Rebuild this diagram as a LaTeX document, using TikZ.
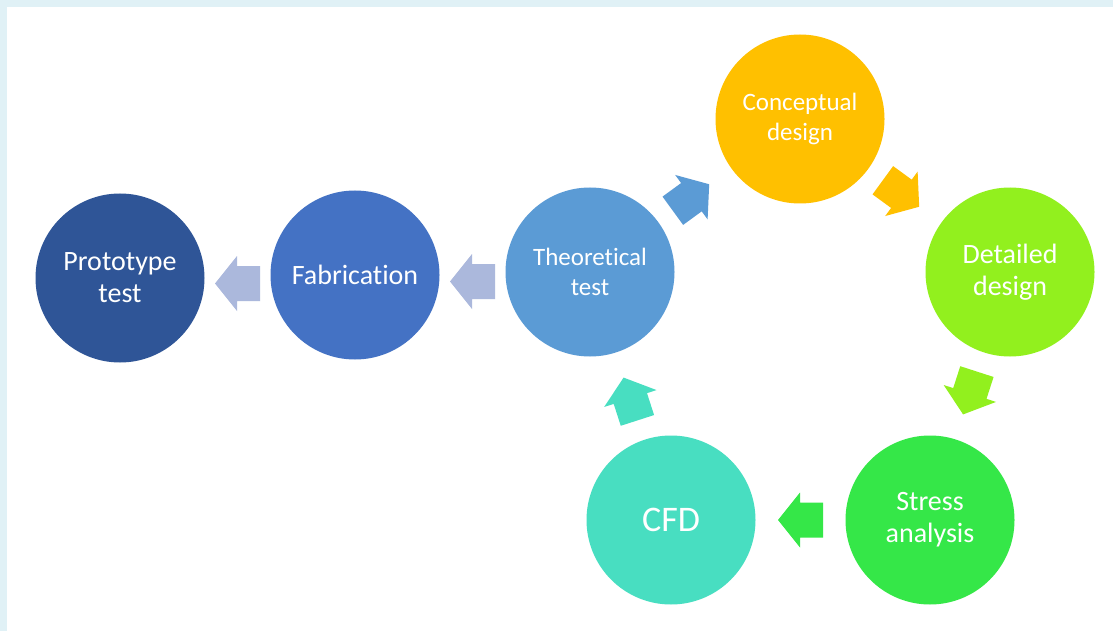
\documentclass[tikz,border=0pt]{standalone}
\usepackage{fontspec}
\setmainfont{Carlito}[Ligatures=NoCommon]
\usetikzlibrary{calc}

\definecolor{frameblue}{HTML}{E0F1F6}
\definecolor{cproto}{HTML}{2F5597}
\definecolor{cfab}{HTML}{4472C4}
\definecolor{ctheo}{HTML}{5B9BD5}
\definecolor{cconc}{HTML}{FFC000}
\definecolor{cdet}{HTML}{92F01E}
\definecolor{cstress}{HTML}{35E748}
\definecolor{ccfd}{HTML}{48DEC1}
\definecolor{clav}{HTML}{ABB8DC}

\begin{document}
\begin{tikzpicture}[x=1pt,y=-1pt,
  stage/.style={circle, minimum size=169pt, inner sep=0pt, text=white,
    align=center, font=\fontsize{28}{32}\selectfont},
  smalltext/.style={font=\fontsize{25}{30}\selectfont},
  bigtext/.style={font=\fontsize{36}{40}\selectfont},
  % block arrow pointing along +x, centred on the pic origin
  blockarrow/.pic={
    \fill[#1] (22.5pt,0pt) -- (0.5pt,27.5pt) -- (0.5pt,17.5pt)
      -- (-22.5pt,17.5pt) -- (-22.5pt,-17.5pt) -- (0.5pt,-17.5pt)
      -- (0.5pt,-27.5pt) -- cycle;
  }
]
\useasboundingbox (0,0) rectangle (1113,631);

% light frame along the top and left edges
\fill[frameblue] (0,0) rectangle (1113,631);
\fill[white] (7,7) rectangle (1113,631);

% process stages
\node[stage, fill=cproto] (proto) at (120,278) {Prototype\\test};
\node[stage, fill=cfab] (fab) at (355,275) {Fabrication};
\node[stage, smalltext, fill=ctheo] (theo) at (590,272) {Theoretical\\test};
\node[stage, smalltext, fill=cconc] (conc) at (800,119) {Conceptual\\design};
\node[stage, fill=cdet] (det) at (1010,272) {Detailed\\design};
\node[stage, fill=cstress] (stress) at (930,520) {Stress\\analysis};
\node[stage, bigtext, fill=ccfd] (cfd) at (671,520) {CFD};

% arrows between stages
\pic[rotate=180] at ($(proto)!0.5!(fab)+(0,7)$) {blockarrow=clav};
\pic[rotate=180] at ($(fab)!0.5!(theo)+(0,8)$) {blockarrow=clav};
\pic[rotate=36.1] at ($(theo)!0.5!(conc)+(-4,2)$) {blockarrow=ctheo};
\pic[rotate=-36.1] at ($(conc)!0.5!(det)+(-4,-2)$) {blockarrow=cconc};
\pic[rotate=-107.9] at ($(det)!0.5!(stress)+(0,-3)$) {blockarrow=cdet};
\pic[rotate=180] at ($(stress)!0.5!(cfd)$) {blockarrow=cstress};
\pic[rotate=107.9] at ($(cfd)!0.5!(theo)+(0,3)$) {blockarrow=ccfd};
\end{tikzpicture}
\end{document}
